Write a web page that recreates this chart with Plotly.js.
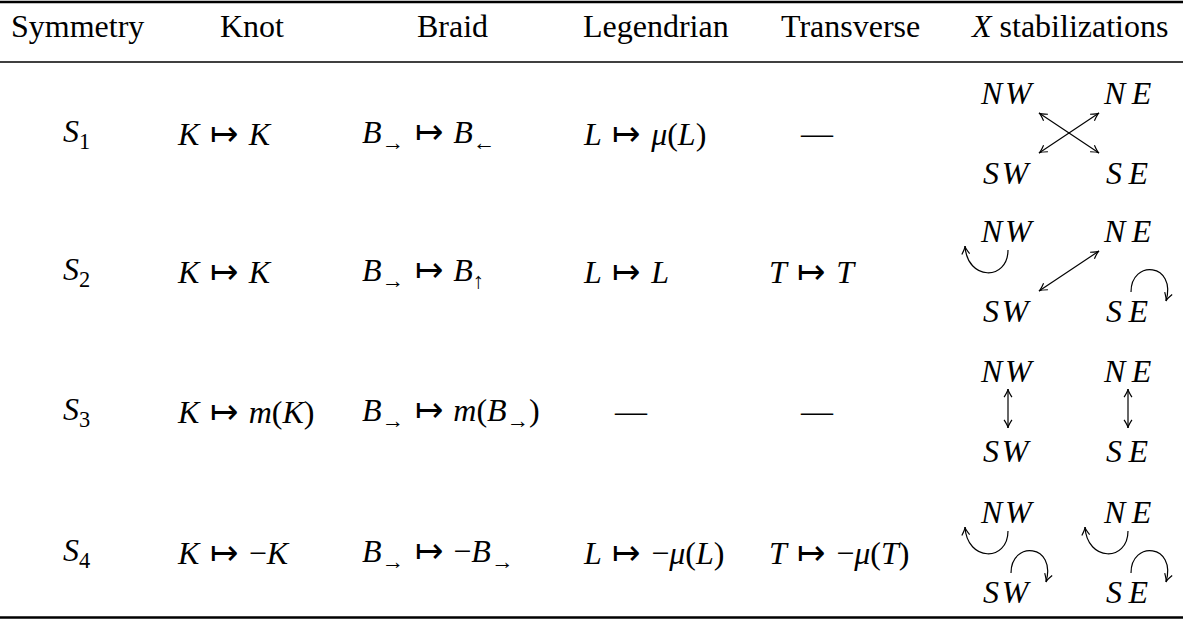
<!DOCTYPE html>
<html><head><meta charset="utf-8">
<script src="https://cdn.plot.ly/plotly-3.0.1.min.js"></script>
<style>html,body{margin:0;padding:0;background:#fff}#chart{width:1183px;height:620px}</style>
</head><body><div id="chart"></div>
<script>
// ---- table content ----
const headers = ['Symmetry', 'Knot', 'Braid', 'Legendrian', 'Transverse', '<i>X</i> stabilizations'];
const symmetries = ['<i>S</i><sub>1</sub>', '<i>S</i><sub>2</sub>', '<i>S</i><sub>3</sub>', '<i>S</i><sub>4</sub>'];
const knotMaps = ['<i>K</i> ↦ <i>K</i>', '<i>K</i> ↦ <i>K</i>', '<i>K</i> ↦ <i>m</i>(<i>K</i>)', '<i>K</i> ↦ −<i>K</i>'];
const braidMaps = ['<i>B</i><sub>→</sub> ↦ <i>B</i><sub>←</sub>', '<i>B</i><sub>→</sub> ↦ <i>B</i><sub>↑</sub>',
                   '<i>B</i><sub>→</sub> ↦ <i>m</i>(<i>B</i><sub>→</sub>)', '<i>B</i><sub>→</sub> ↦ −<i>B</i><sub>→</sub>'];
const legendrianMaps = ['<i>L</i> ↦ <i>μ</i>(<i>L</i>)', '<i>L</i> ↦ <i>L</i>', '—', '<i>L</i> ↦ −<i>μ</i>(<i>L</i>)'];
const transverseMaps = ['—', '<i>T</i> ↦ <i>T</i>', '—', '<i>T</i> ↦ −<i>μ</i>(<i>T</i>)'];
const gridLabels = ['NW', 'NE', 'SW', 'SE'];
// X stabilization relations per row: [a, b]; a === b means the stabilization maps to itself (loop)
const stabilizations = [
  [['NW', 'SE'], ['NE', 'SW']],
  [['NW', 'NW'], ['NE', 'SW'], ['SE', 'SE']],
  [['NW', 'SW'], ['NE', 'SE']],
  [['NW', 'NW'], ['NE', 'NE'], ['SW', 'SW'], ['SE', 'SE']]
];

// ---- layout geometry ----
const W = 1183, H = 620;
const FONT = 'Liberation Serif';
const FS = 32;
const headerX = [77, 252, 452, 656, 850, 1069];
const headerY = 26;
const colLeft = [null, 175, 360, 581, 767];
const symX = 76;
const rowY = [133, 271, 411, 552];
const xW = 1007, xE = 1127, dyLab = 40;
const rules = [{y: 2, w: 2.4}, {y: 62, w: 1.5}, {y: 617.5, w: 2.4}];

const annotations = [];
const shapes = [];

function txt(text, x, y, anchor, size) {
  annotations.push({text: text, x: x, y: y, xref: 'x', yref: 'y', xanchor: anchor, yanchor: 'middle',
    showarrow: false, font: {family: FONT, size: size || FS, color: '#000'}});
}
function mathSpacing(s) {
  return s.replace(/ ↦ /g,
    '\u2004<span style="font-family:DejaVu Sans;font-weight:200;font-size:34px">↦</span>\u2004');
}
function path(d, w) {
  shapes.push({type: 'path', xref: 'x', yref: 'y', path: d, line: {color: '#000', width: w || 1.2}});
}
function head(tx, ty, dx, dy) {
  const L = Math.hypot(dx, dy), ux = dx / L, uy = dy / L, len = 9, a = 0.45;
  const b = s => {
    const c = Math.cos(s * a), sn = Math.sin(s * a);
    const rx = -ux * c + uy * sn, ry = -uy * c - ux * sn;
    return [tx + rx * len, ty + ry * len];
  };
  const p1 = b(1), p2 = b(-1);
  return `M ${p1[0]},${p1[1]} Q ${tx - ux * 2},${ty - uy * 2} ${tx},${ty} Q ${tx - ux * 2},${ty - uy * 2} ${p2[0]},${p2[1]}`;
}
function dbl(x1, y1, x2, y2) {
  path(`M ${x1},${y1} L ${x2},${y2}`);
  path(head(x2, y2, x2 - x1, y2 - y1));
  path(head(x1, y1, x1 - x2, y1 - y2));
}

headers.forEach((h, i) => txt(h, headerX[i], headerY, 'center'));
rules.forEach(r => shapes.push({type: 'line', xref: 'x', yref: 'y', x0: 0, x1: W, y0: r.y, y1: r.y,
  line: {color: '#000', width: r.w}}));

const columns = [null, knotMaps, braidMaps, legendrianMaps, transverseMaps];
rowY.forEach((cy, r) => {
  txt(symmetries[r], symX, cy, 'center');
  for (let c = 1; c <= 4; c++) {
    const v = columns[c][r];
    if (v === '—') txt(v, colLeft[c] + 31, cy, 'left');
    else txt(mathSpacing(v), colLeft[c], cy, 'left');
  }
  const pos = {NW: [xW, cy - dyLab], NE: [xE, cy - dyLab], SW: [xW, cy + dyLab], SE: [xE, cy + dyLab]};
  gridLabels.forEach(g => txt('<i>' + g.split('').join(g[1] === 'E' ? '\u2009' : '\u200A') + '</i>',
    pos[g][0], pos[g][1], 'center'));
  stabilizations[r].forEach(([a, b]) => {
    if (a === b) {
      const [lx, ly] = pos[a];
      if (a[0] === 'N') {
        path(`M ${lx + 1},${ly + 19} C ${lx + 1},${ly + 50} ${lx - 40},${ly + 50} ${lx - 42},${ly + 15}`);
        path(head(lx - 42, ly + 15, -3, -33));
      } else {
        path(`M ${lx + 4},${ly - 19} C ${lx + 4},${ly - 52} ${lx + 50},${ly - 48} ${lx + 39},${ly - 10}`);
        path(head(lx + 39, ly - 10, -12, 38));
      }
    } else if (a[1] === b[1]) {
      const x = pos[a][0] + 1;
      dbl(x, cy - 22, x, cy + 17);
    } else {
      const [ax, ay] = pos[a], [bx, by] = pos[b];
      const sx = ax < bx ? 1 : -1, sy = ay < by ? 1 : -1;
      dbl(ax + sx * (ax === xW ? 32 : 28), ay + sy * 20, bx - sx * (bx === xW ? 32 : 28), by - sy * 20);
    }
  });
});

Plotly.newPlot('chart', [], {
  width: W, height: H, margin: {l: 0, r: 0, t: 0, b: 0},
  paper_bgcolor: '#fff', plot_bgcolor: '#fff', showlegend: false,
  font: {family: FONT},
  xaxis: {range: [0, W], visible: false, fixedrange: true},
  yaxis: {range: [H, 0], visible: false, fixedrange: true},
  annotations: annotations, shapes: shapes
}, {displayModeBar: false, staticPlot: true});
</script></body></html>
